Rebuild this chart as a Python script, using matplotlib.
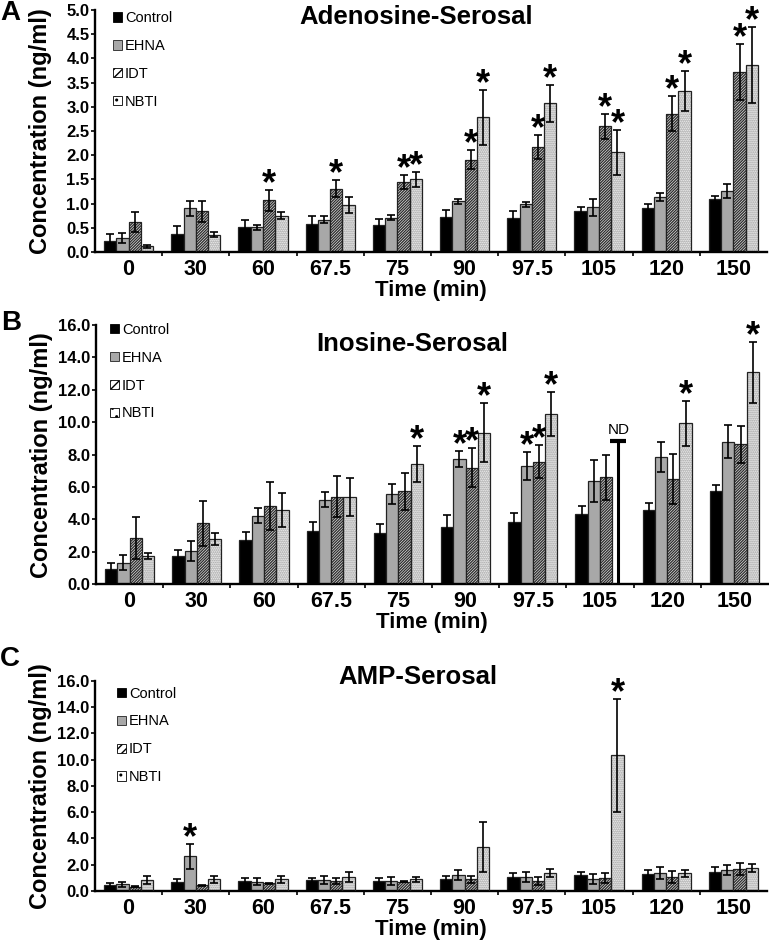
import numpy as np
import matplotlib
matplotlib.use("Agg")
import matplotlib.pyplot as plt
from matplotlib.patches import Patch

plt.rcParams['font.family'] = ['Liberation Sans', 'DejaVu Sans']
plt.rcParams['hatch.linewidth'] = 1.0

times = ["0", "30", "60", "67.5", "75", "90", "97.5", "105", "120", "150"]
groups = ["Control", "EHNA", "IDT", "NBTI"]

# Adenosine-Serosal (ng/ml), mean and error
ado_control = [0.23, 0.38, 0.51, 0.57, 0.55, 0.72, 0.71, 0.84, 0.91, 1.10]
ado_control_err = [0.14, 0.15, 0.15, 0.17, 0.14, 0.15, 0.14, 0.10, 0.09, 0.06]
ado_ehna = [0.29, 0.90, 0.51, 0.67, 0.71, 1.05, 0.99, 0.92, 1.14, 1.26]
ado_ehna_err = [0.11, 0.16, 0.05, 0.07, 0.05, 0.05, 0.05, 0.17, 0.08, 0.14]
ado_idt = [0.62, 0.84, 1.07, 1.31, 1.45, 1.91, 2.17, 2.60, 2.86, 3.72]
ado_idt_err = [0.21, 0.21, 0.22, 0.17, 0.15, 0.19, 0.24, 0.26, 0.36, 0.57]
ado_nbti = [0.12, 0.36, 0.75, 0.97, 1.50, 2.78, 3.07, 2.06, 3.32, 3.86]
ado_nbti_err = [0.03, 0.05, 0.07, 0.17, 0.16, 0.56, 0.38, 0.46, 0.41, 0.78]
ado_stars = [(2, 2), (3, 2), (4, 2), (4, 3), (5, 2), (5, 3), (6, 2), (6, 3),
             (7, 2), (7, 3), (8, 2), (8, 3), (9, 2), (9, 3)]

# Inosine-Serosal
ino_control = [0.93, 1.75, 2.74, 3.29, 3.19, 3.56, 3.87, 4.34, 4.59, 5.76]
ino_control_err = [0.37, 0.37, 0.51, 0.54, 0.51, 0.72, 0.51, 0.49, 0.45, 0.39]
ino_ehna = [1.34, 2.06, 4.24, 5.21, 5.56, 7.72, 7.30, 6.38, 7.84, 8.81]
ino_ehna_err = [0.45, 0.62, 0.47, 0.47, 0.61, 0.49, 0.85, 1.29, 0.93, 0.99]
ino_idt = [2.88, 3.77, 4.84, 5.41, 5.74, 7.20, 7.57, 6.60, 6.50, 8.64]
ino_idt_err = [1.30, 1.40, 1.46, 1.28, 1.15, 1.20, 1.03, 1.38, 1.52, 1.15]
ino_nbti = [1.75, 2.78, 4.59, 5.39, 7.43, 9.36, 10.49, np.nan, 9.94, 13.07]
ino_nbti_err = [0.20, 0.37, 1.03, 1.20, 1.11, 1.81, 1.36, np.nan, 1.40, 1.87]
ino_stars = [(4, 3), (5, 1), (5, 2), (5, 3), (6, 1), (6, 2), (6, 3), (8, 3), (9, 3)]
ino_nd = (7, 3, 8.85)   # not detected: NBTI at 105 min, marker height

# AMP-Serosal
amp_control = [0.46, 0.69, 0.74, 0.81, 0.76, 0.94, 1.04, 1.19, 1.29, 1.47]
amp_control_err = [0.17, 0.20, 0.22, 0.20, 0.20, 0.23, 0.31, 0.28, 0.31, 0.33]
amp_ehna = [0.51, 2.64, 0.69, 0.84, 0.76, 1.22, 1.09, 0.91, 1.40, 1.60]
amp_ehna_err = [0.20, 0.94, 0.27, 0.33, 0.28, 0.40, 0.38, 0.38, 0.45, 0.40]
amp_idt = [0.33, 0.43, 0.58, 0.76, 0.71, 0.89, 0.79, 0.99, 1.09, 1.70]
amp_idt_err = [0.05, 0.05, 0.05, 0.20, 0.05, 0.25, 0.30, 0.41, 0.46, 0.46]
amp_nbti = [0.84, 0.89, 0.89, 1.04, 0.89, 3.38, 1.40, 10.33, 1.35, 1.73]
amp_nbti_err = [0.30, 0.25, 0.25, 0.38, 0.20, 1.90, 0.30, 4.29, 0.25, 0.30]
amp_stars = [(1, 1), (7, 3)]

W = 0.183
styles = [
    dict(facecolor='black', hatch=None, hatchcolor='black'),
    dict(facecolor='#a8a8a8', hatch=None, hatchcolor='#a8a8a8'),
    dict(facecolor='white', hatch='/' * 12, hatchcolor='#303030'),
    dict(facecolor='white', hatch='.' * 8, hatchcolor='#8c8c8c'),
]

fig = plt.figure(figsize=(7.69, 9.44), dpi=100)


def draw_panel(rect, means, errs, stars, ymax, ystep, title, title_xy, letter,
               letter_xy, leg_xy, nd=None):
    ax = fig.add_axes(rect)
    x = np.arange(len(times))
    for k in range(4):
        xs = x + (k - 1.5) * W
        st = styles[k]
        if st['hatch']:
            ax.bar(xs, means[k], W, color=st['facecolor'], edgecolor=st['hatchcolor'],
                   hatch=st['hatch'], linewidth=0, zorder=2)
            ax.bar(xs, means[k], W, fill=False, edgecolor='#222222', linewidth=0.9, zorder=3)
        else:
            ax.bar(xs, means[k], W, color=st['facecolor'], edgecolor='#222222',
                   linewidth=0.9, zorder=2)
        ax.errorbar(xs, means[k], yerr=errs[k], fmt='none', ecolor='black',
                    elinewidth=1.2, capsize=3, capthick=1.2, zorder=4)

    for g, k in stars:
        top = means[k][g] + errs[k][g]
        ax.annotate('*', xy=(g + (k - 1.5) * W, top), xytext=(0, -3),
                    textcoords='offset points', ha='center', va='baseline',
                    fontsize=26, fontweight='bold', zorder=5)

    if nd is not None:
        g, k, h = nd
        xn = g + (k - 1.5) * W
        ax.plot([xn, xn], [0, h], color='black', lw=2.2, zorder=4)
        ax.plot([xn], [h], marker='_', markersize=11, mew=3, color='black', zorder=4)
        ax.annotate('ND', xy=(xn, h), xytext=(0, 3), textcoords='offset points',
                    ha='center', va='bottom', fontsize=11)

    ax.set_xlim(-0.5, len(times) - 0.5)
    ax.set_ylim(0, ymax)
    ax.set_yticks(np.arange(0, ymax + ystep / 2, ystep))
    ax.set_yticklabels(['%.1f' % v for v in np.arange(0, ymax + ystep / 2, ystep)],
                       fontsize=12, fontweight='bold')
    ax.set_xticks(x)
    ax.set_xticklabels(times, fontsize=15.5, fontweight='bold')
    ax.set_xticks(x[:-1] + 0.5, minor=True)
    ax.tick_params(axis='x', which='major', length=0, pad=5)
    ax.tick_params(axis='x', which='minor', length=3, width=1.2, direction='out')
    ax.tick_params(axis='y', length=3, width=1.2, direction='out', pad=1)
    for s in ['top', 'right']:
        ax.spines[s].set_visible(False)
    for s in ['left', 'bottom']:
        ax.spines[s].set_linewidth(1.7)
    ax.set_xlabel('Time (min)', fontsize=16, fontweight='bold', labelpad=0)
    ax.set_ylabel('Concentration (ng/ml)', fontsize=17, fontweight='bold')
    ax.yaxis.set_label_coords(-0.064, 0.5)
    ax.text(title_xy[0], title_xy[1], title, transform=ax.transAxes, ha='center',
            va='center', fontsize=18.5, fontweight='bold')
    fig.text(letter_xy[0], letter_xy[1], letter, ha='left', va='top',
             fontsize=20, fontweight='bold')

    handles = [Patch(facecolor='black', edgecolor='black', lw=0.6),
               Patch(facecolor='#a8a8a8', edgecolor='#222222', lw=0.6),
               Patch(facecolor='white', edgecolor='black', hatch='////', lw=0.6),
               Patch(facecolor='white', edgecolor='black', hatch='..', lw=0.6)]
    ax.legend(handles, groups, loc='upper left', bbox_to_anchor=leg_xy,
              frameon=False, fontsize=10.5, handlelength=0.6, handleheight=0.6,
              handletextpad=0.2, labelspacing=0.95, borderpad=0, borderaxespad=0)
    return ax


W_AX = 672 / 769
draw_panel([95 / 769, 692 / 944, W_AX, 242 / 944],
           [ado_control, ado_ehna, ado_idt, ado_nbti],
           [ado_control_err, ado_ehna_err, ado_idt_err, ado_nbti_err],
           ado_stars, 5.0, 0.5, 'Adenosine-Serosal', (0.478, 0.972), 'A',
           (0.0, 1.0), (0.027, 0.995))
draw_panel([96 / 769, 359.7 / 944, W_AX, 259.3 / 944],
           [ino_control, ino_ehna, ino_idt, ino_nbti],
           [ino_control_err, ino_ehna_err, ino_idt_err, ino_nbti_err],
           ino_stars, 16.0, 2.0, 'Inosine-Serosal', (0.47, 0.925), 'B',
           (0.002, 1 - 310 / 944), (0.021, 1.008), nd=ino_nd)
draw_panel([95 / 769, 53 / 944, W_AX, 210.3 / 944],
           [amp_control, amp_ehna, amp_idt, amp_nbti],
           [amp_control_err, amp_ehna_err, amp_idt_err, amp_nbti_err],
           amp_stars, 16.0, 2.0, 'AMP-Serosal', (0.48, 1.018), 'C',
           (0.0, 1 - 646 / 944), (0.033, 0.972))

fig.savefig('out.png', dpi=100)
